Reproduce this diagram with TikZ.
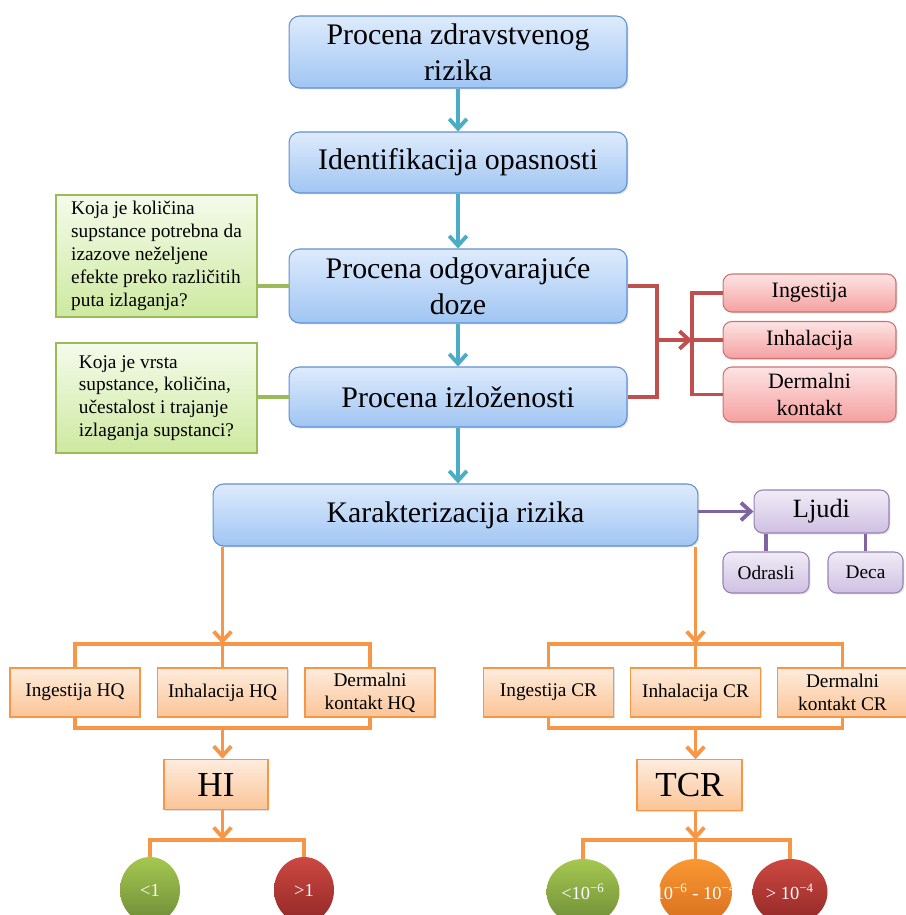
\documentclass[tikz,border=0pt]{standalone}
\usepackage{fontspec}
\setmainfont{Liberation Serif}
\usetikzlibrary{shadows,shapes.geometric,arrows.meta}

\definecolor{bluetopc}{RGB}{222,235,252}
\definecolor{bluebotc}{RGB}{160,197,243}
\definecolor{blueedge}{RGB}{95,145,210}
\definecolor{bluearr}{RGB}{75,172,198}
\definecolor{greentopc}{RGB}{245,251,235}
\definecolor{greenbotc}{RGB}{205,233,160}
\definecolor{greenedge}{RGB}{155,187,89}
\definecolor{redtopc}{RGB}{253,228,228}
\definecolor{redbotc}{RGB}{245,160,160}
\definecolor{rededge}{RGB}{192,80,77}
\definecolor{purptopc}{RGB}{241,236,247}
\definecolor{purpbotc}{RGB}{206,192,226}
\definecolor{purpedge}{RGB}{128,100,162}
\definecolor{orgtopc}{RGB}{254,236,222}
\definecolor{orgbotc}{RGB}{251,196,150}
\definecolor{orgedge}{RGB}{247,150,70}

\begin{document}
\begin{tikzpicture}[x=0.02cm,y=-0.02cm,
  softshadow/.style={drop shadow={shadow xshift=0.8pt,shadow yshift=-0.8pt,opacity=0.25}},
  stagebox/.style={draw=blueedge, line width=0.6pt, rounded corners=6pt, top color=bluetopc, bottom color=bluebotc, softshadow, align=center, inner sep=2pt, font=\fontsize{17}{20.5}\selectfont},
  notebox/.style={draw=greenedge, line width=0.6pt, top color=greentopc, bottom color=greenbotc, softshadow, align=left, inner sep=2pt, font=\fontsize{11}{13}\selectfont},
  pathbox/.style={draw=rededge!80, line width=0.6pt, rounded corners=5pt, top color=redtopc, bottom color=redbotc, softshadow, align=center, minimum width=3.46cm, inner sep=1pt, font=\fontsize{12.5}{15.5}\selectfont},
  groupbox/.style={draw=purpedge!80, line width=0.6pt, rounded corners=5pt, top color=purptopc, bottom color=purpbotc, softshadow, align=center, inner sep=1pt},
  calcbox/.style={draw=orgedge, line width=0.6pt, top color=orgtopc, bottom color=orgbotc, softshadow, align=center, minimum width=2.6cm, minimum height=0.98cm, inner sep=1pt, font=\fontsize{11}{13}\selectfont},
  sumbox/.style={draw=orgedge, line width=0.6pt, top color=orgtopc, bottom color=orgbotc, softshadow, minimum height=1.01cm, inner sep=1pt, font=\fontsize{20}{24}\selectfont},
  ball/.style={ellipse, minimum height=1.32cm, inner sep=0pt, text=white, font=\fontsize{10.5}{12}\selectfont},
  balltext/.style={text=white, font=\fontsize{10.5}{12}\selectfont, inner sep=0pt},
  chev/.style={-{Straight Barb[length=5.5pt,width=10pt]}},
  bluearrow/.style={chev, line width=2.2pt, bluearr},
  noteline/.style={line width=2.2pt, greenedge},
  pathline/.style={line width=2.2pt, rededge},
  groupline/.style={line width=2.2pt, purpedge},
  calcline/.style={line width=2.2pt, orgedge}
]
\useasboundingbox (0,0) rectangle (905,915);

% main column
\node[stagebox, minimum width=6.76cm, minimum height=1.44cm] (proc) at (458,52) {Procena zdravstvenog\\rizika};
\node[stagebox, minimum width=6.76cm, minimum height=1.22cm] (ident) at (458,162.5) {Identifikacija opasnosti};
\node[stagebox, minimum width=6.76cm, minimum height=1.48cm] (doza) at (458,286) {Procena odgovarajuće\\doze};
\node[stagebox, minimum width=6.76cm, minimum height=1.2cm] (izlo) at (458,397) {Procena izloženosti};
\node[stagebox, minimum width=9.7cm, minimum height=1.24cm] (karak) at (455.5,515) {Karakterizacija rizika};

\draw[bluearrow] (proc) -- (ident);
\draw[bluearrow] (ident) -- (doza);
\draw[bluearrow] (doza) -- (izlo);
\draw[bluearrow] (izlo) -- (karak.north -| izlo);

% questions
\node[notebox, minimum width=4.02cm, minimum height=2.44cm] (pit1) at (156.5,256) {Koja je količina\\supstance potrebna da\\izazove neželjene\\efekte preko različitih\\puta izlaganja?};
\node[notebox, minimum width=4.02cm, minimum height=2.2cm] (pit2) at (156.5,398) {Koja je vrsta\\supstance, količina,\\učestalost i trajanje\\izlaganja supstanci?};
\draw[noteline] (doza.west) -- (doza.west -| pit1.east);
\draw[noteline] (izlo.west) -- (izlo.west -| pit2.east);

% exposure routes
\node[pathbox, minimum height=0.76cm] (ing) at (809.5,293) {Ingestija};
\node[pathbox, minimum height=0.74cm] (inh) at (809.5,340) {Inhalacija};
\node[pathbox, minimum height=1.1cm] (derm) at (809.5,394.5) {Dermalni\\kontakt};
\coordinate (rjoin) at (657,340);
\coordinate (rfork) at (692,340);
\draw[pathline] (doza.east) -| (rjoin) |- (izlo.east);
\draw[pathline, chev] (rjoin) -- (rfork);
\draw[pathline] (ing.west) -| (rfork) |- (derm.west);
\draw[pathline] (rfork) -- (inh.west);

% receptors
\node[groupbox, minimum width=2.7cm, minimum height=0.86cm, font=\fontsize{15}{18}\selectfont] (ljudi) at (821.5,511.5) {Ljudi};
\node[groupbox, minimum width=1.72cm, minimum height=0.82cm, font=\fontsize{11}{13}\selectfont] (odr) at (766,572.5) {Odrasli};
\node[groupbox, minimum width=1.5cm, minimum height=0.82cm, font=\fontsize{11}{13}\selectfont] (deca) at (865.5,572.5) {Deca};
\draw[groupline, chev] (karak.east |- ljudi) -- (ljudi.west);
\draw[groupline] (odr.north) -- (odr.north |- ljudi.south);
\draw[groupline] (deca.north) -- (deca.north |- ljudi.south);

% hazard quotients
\node[calcbox] (hq1) at (75,692.5) {Ingestija HQ};
\node[calcbox] (hq2) at (222.5,692.5) {Inhalacija HQ};
\node[calcbox] (hq3) at (370,692.5) {Dermalni\\kontakt HQ};
\node[sumbox, minimum width=2.08cm] (hi) at (216,784.5) {HI};
\coordinate (hqtop) at (222.5,644);
\coordinate (hqbot) at (222.5,728);
\coordinate (hifork) at (222.5,840);
\draw[calcline, chev] (karak.south -| hqtop) -- (hqtop);
\draw[calcline] (hq1.north) |- (hqtop) -| (hq3.north);
\draw[calcline] (hqtop) -- (hq2.north);
\draw[calcline] (hq1.south) |- (hqbot) -| (hq3.south);
\draw[calcline, chev] (hqbot) -- (hi.north -| hqbot);
\draw[calcline, chev] (hi.south -| hifork) -- (hifork);
\node[ball, minimum width=1.2cm, top color={rgb,255:red,165;green,200;blue,80}, bottom color={rgb,255:red,110;green,140;blue,55}] (lt1) at (150,890) {<1};
\node[ball, minimum width=1.2cm, top color={rgb,255:red,205;green,72;blue,66}, bottom color={rgb,255:red,145;green,40;blue,38}] (gt1) at (304,890) {>1};
\draw[calcline] (lt1.north) |- (hifork) -| (gt1.north);

% cancer risk
\node[calcbox] (cr1) at (548.5,692.5) {Ingestija CR};
\node[calcbox] (cr2) at (695.5,692.5) {Inhalacija CR};
\node[calcbox] (cr3) at (842.5,692.5) {Dermalni\\kontakt CR};
\node[sumbox, minimum width=2.1cm] (tcr) at (689.5,785) {TCR};
\coordinate (crtop) at (695.5,644);
\coordinate (crbot) at (695.5,728);
\coordinate (tcrfork) at (695.5,840);
\draw[calcline, chev] (karak.south -| crtop) -- (crtop);
\draw[calcline] (cr1.north) |- (crtop) -| (cr3.north);
\draw[calcline] (crtop) -- (cr2.north);
\draw[calcline] (cr1.south) |- (crbot) -| (cr3.south);
\draw[calcline, chev] (crbot) -- (tcr.north -| crbot);
\draw[calcline, chev] (tcr.south -| tcrfork) -- (tcrfork);
\node[ball, minimum width=1.46cm, top color={rgb,255:red,165;green,200;blue,80}, bottom color={rgb,255:red,110;green,140;blue,55}, label={[balltext]center:<10\textsuperscript{−6}}] (low) at (583,892) {};
\node[ball, minimum width=1.46cm, top color={rgb,255:red,250;green,152;blue,50}, bottom color={rgb,255:red,215;green,110;blue,30}, label={[balltext]center:10\textsuperscript{−6} - 10\textsuperscript{−4}}] (mid) at (695.5,892) {};
\node[ball, minimum width=1.5cm, top color={rgb,255:red,205;green,72;blue,66}, bottom color={rgb,255:red,145;green,40;blue,38}, label={[balltext]center:> 10\textsuperscript{−4}}] (high) at (790,892) {};
\draw[calcline] (low.north) |- (tcrfork) -| (high.north);
\draw[calcline] (tcrfork) -- (mid.north);
\end{tikzpicture}
\end{document}
